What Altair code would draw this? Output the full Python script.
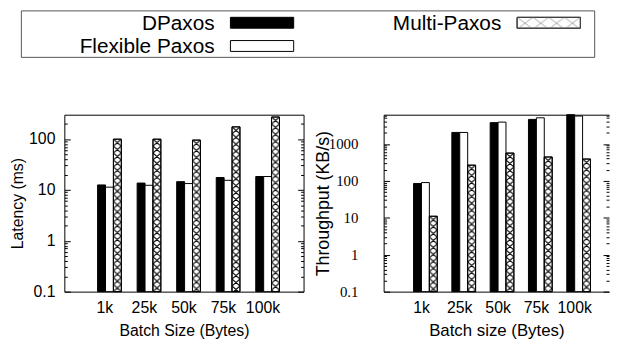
import base64
import altair as alt
import pandas as pd

batches = ["1k", "25k", "50k", "75k", "100k"]
series = ["DPaxos", "Flexible Paxos", "Multi-Paxos"]

lat_dpaxos = [12.5, 13.6, 14.5, 17.5, 18.3]
lat_flexible = [11.3, 12.3, 13.3, 15.4, 18.3]
lat_multi = [99, 99, 95, 173, 270]

thr_dpaxos = [85, 2050, 3780, 4620, 6200]
thr_flexible = [90, 2050, 3900, 5100, 5700]
thr_multi = [11, 266, 565, 443, 390]

lat_ticks = [0.1, 1, 10, 100]
thr_ticks = [0.1, 1, 10, 100, 1000]

FONT = "Liberation Sans"
PLOT_H = 179


def long_table(cols):
    rows = []
    for s, vals in zip(series, cols):
        for b, v in zip(batches, vals):
            rows.append({"batch": b, "series": s, "value": v})
    return pd.DataFrame(rows)


def minors(lo, hi):
    out = []
    d = lo
    while d < hi:
        for k in range(2, 10):
            v = round(d * k, 6)
            if v < hi:
                out.append(v)
        d *= 10
    return out


def hatch_url(w, h, color, sw):
    segs = ""
    for dx in (-w, 0, w):
        for dy in (-h, 0, h):
            segs += f"M{dx},{dy}L{dx + w},{dy + h}M{dx + w},{dy}L{dx},{dy + h}"
    svg = (
        '<svg xmlns="http://www.w3.org/2000/svg" width="100%" height="100%">'
        f'<defs><pattern id="p" width="{w}" height="{h}" patternUnits="userSpaceOnUse">'
        f'<path d="{segs}" stroke="{color}" stroke-width="{sw}" fill="none"/>'
        '</pattern></defs><rect width="100%" height="100%" fill="url(#p)"/></svg>'
    )
    return "data:image/svg+xml;base64," + base64.b64encode(svg.encode()).decode()


BAR_HATCH = hatch_url(8, 7, "#000", 1.1)
LEG_HATCH = hatch_url(16, 12, "#aaa", 1)

fill_scale = alt.Scale(domain=series, range=["black", "white", "white"])


def tick_axis(orient, values, size):
    return alt.Axis(orient=orient, values=values, tickSize=size, offset=-size,
                    labels=False, domain=False, grid=False, title=None,
                    minExtent=0, maxExtent=0)


def panel(df, dmax, ticks, width, xscale, ytitle, ytitle_size, ylab_font, ylab_size,
          ylab_pad, ytitle_pad, xtitle, xtitle_size, xlab_offset, open_right):
    yscale = alt.Scale(type="log", domain=[0.1, dmax], nice=False)
    xaxis = alt.Axis(orient="bottom", ticks=False, domain=open_right, labelAngle=0,
                     labelFontSize=16, labelPadding=8.5, labelOffset=xlab_offset,
                     title=xtitle, titleFontSize=xtitle_size, titlePadding=7,
                     labelFont=FONT, titleFont=FONT, minExtent=0)
    xo = alt.XOffset("series:N", sort=series,
                     scale=alt.Scale(paddingInner=0, paddingOuter=0))
    mi = minors(0.1, dmax)
    base_y = alt.datum(0.1)

    def xenc(axis):
        return alt.X("batch:N", sort=batches, scale=xscale, axis=axis)

    def yenc(axis):
        return alt.Y("value:Q", scale=yscale, axis=axis)

    base = alt.Chart(df)
    bars = base.mark_bar(stroke="black", strokeWidth=1).encode(
        x=xenc(xaxis), xOffset=xo,
        y=yenc(alt.Axis(orient="left", values=ticks, format="~g", tickSize=6,
                        offset=-6, domain=False, grid=False, labelPadding=ylab_pad,
                        labelFont=ylab_font, labelFontSize=ylab_size,
                        title=ytitle, titleFont=FONT, titleFontSize=ytitle_size,
                        titlePadding=ytitle_pad, minExtent=0)),
        y2=base_y,
        fill=alt.Fill("series:N", scale=fill_scale, legend=None),
    )
    multi = base.transform_filter(alt.datum.series == "Multi-Paxos")
    hatch = multi.mark_image(aspect=False).encode(
        x=xenc(None), xOffset=xo, y=yenc(tick_axis("right", ticks, 6)), y2=base_y,
        url=alt.value(BAR_HATCH),
    )
    outline = multi.mark_bar(fill="transparent", stroke="black", strokeWidth=1).encode(
        x=xenc(None), xOffset=xo, y=yenc(tick_axis("left", mi, 3)), y2=base_y,
    )
    ghost = multi.mark_bar(opacity=0).encode(
        x=xenc(None), xOffset=xo, y=yenc(tick_axis("right", mi, 3)), y2=base_y,
    )
    layers = [bars, hatch, outline, ghost]
    props = dict(width=width, height=PLOT_H)
    if open_right:
        # frame drawn by axis domains (top, left, bottom) so the right side stays open
        frame = multi.mark_bar(opacity=0).encode(
            x=xenc(alt.Axis(orient="top", ticks=False, labels=False, domain=True,
                            title=None, minExtent=0, maxExtent=0)),
            xOffset=xo,
            y=yenc(alt.Axis(orient="left", ticks=False, labels=False, domain=True,
                            grid=False, title=None, minExtent=0, maxExtent=0)),
            y2=base_y,
        )
        layers.append(frame)
        props["view"] = alt.ViewBackground(stroke="transparent")
    return (
        alt.layer(*layers)
        .resolve_scale(y="shared", x="shared")
        .resolve_axis(y="independent", x="independent")
        .properties(**props)
    )


left = panel(
    long_table([lat_dpaxos, lat_flexible, lat_multi]), 300, lat_ticks, 242,
    alt.Scale(paddingInner=0.4, paddingOuter=0.725, align=0.58),
    "Latency (ms)", 16, FONT, 16, 9.5, 3.5, "Batch Size (Bytes)", 16, -4.7, False,
)
right = panel(
    long_table([thr_dpaxos, thr_flexible, thr_multi]), 6200, thr_ticks, 228,
    alt.Scale(paddingInner=0.38, paddingOuter=0.632, align=0.618),
    "Throughput (KB/s)", 18, "Liberation Sans Narrow", 15, 26, -4.5,
    "Batch size (Bytes)", 17, -4, True,
)

# legend (gnuplot-style key box); origin aligns with left plot's left edge
leg = pd.DataFrame({
    "series": series,
    "col": [i // 2 for i in range(len(series))],
    "row": [i % 2 for i in range(len(series))],
})
lx = alt.Scale(domain=[0, 1], range=[152, 442])
ly = alt.Scale(domain=[0, 1], range=[19, 42.5])
lbase = alt.Chart(leg)
box = alt.Chart(pd.DataFrame({"k": [0]})).mark_rect(
    fill="transparent", stroke="#555", strokeWidth=1
).encode(x=alt.value(-43.5), x2=alt.value(536.5), y=alt.value(0), y2=alt.value(47))
ltext = lbase.mark_text(align="right", baseline="alphabetic", fontSize=21,
                        font=FONT, color="black").encode(
    x=alt.X("col:Q", scale=lx, axis=None),
    y=alt.Y("row:Q", scale=ly, axis=None),
    text="series:N",
)
swatch = lbase.mark_rect(xOffset=16, x2Offset=80, yOffset=-12.5, y2Offset=-1.5,
                         stroke="black", strokeWidth=1).encode(
    x=alt.X("col:Q", scale=lx, axis=None), x2="col:Q",
    y=alt.Y("row:Q", scale=ly, axis=None), y2="row:Q",
    fill=alt.Fill("series:N", scale=fill_scale, legend=None),
)
lmulti = lbase.transform_filter(alt.datum.series == "Multi-Paxos")
swatch_hatch = lmulti.mark_image(aspect=False, xOffset=16, x2Offset=80,
                                 yOffset=-12.5, y2Offset=-1.5).encode(
    x=alt.X("col:Q", scale=lx, axis=None), x2="col:Q",
    y=alt.Y("row:Q", scale=ly, axis=None), y2="row:Q",
    url=alt.value(LEG_HATCH),
)
swatch_edge = lmulti.mark_rect(xOffset=16, x2Offset=80, yOffset=-12.5, y2Offset=-1.5,
                               fill="transparent", stroke="#444", strokeWidth=1).encode(
    x=alt.X("col:Q", scale=lx, axis=None), x2="col:Q",
    y=alt.Y("row:Q", scale=ly, axis=None), y2="row:Q",
)
legend = alt.layer(box, ltext, swatch, swatch_hatch, swatch_edge).properties(
    width=500, height=47, view=alt.ViewBackground(stroke="transparent")
)

chart = (
    alt.vconcat(legend, alt.hconcat(left, right, spacing=10), spacing=56)
    .properties(padding=0)
    .configure_view(stroke="black", strokeWidth=1)
    .configure_axis(labelColor="black", titleColor="black", tickColor="black",
                    domainColor="black", domainWidth=1,
                    titleFontWeight="normal", labelFont=FONT, titleFont=FONT)
)

chart.save("out.html", embed_options={"renderer": "svg", "actions": False})
